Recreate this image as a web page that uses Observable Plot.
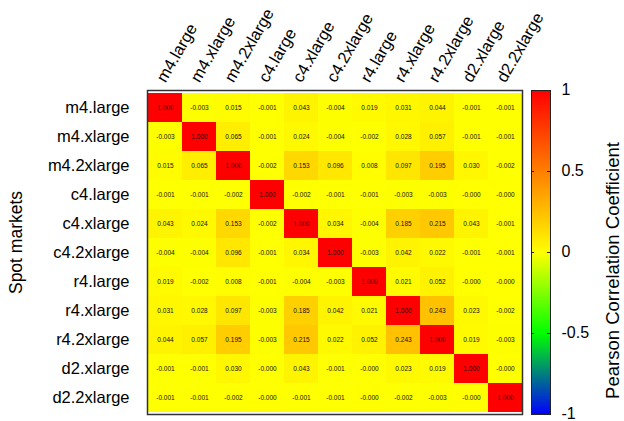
<!DOCTYPE html>
<html>
<head>
<meta charset="utf-8">
<script src="https://cdn.jsdelivr.net/npm/d3@7"></script>
<script src="https://cdn.jsdelivr.net/npm/@observablehq/plot@0.6"></script>
<style>
  body { margin: 0; background: #fff; }
  #chart { position: relative; width: 624px; height: 421px; overflow: hidden; }
  #chart svg { position: absolute; left: 0; top: 0; }
</style>
</head>
<body>
<div id="chart"></div>
<script>
// Spot market instance types (rows and columns of the matrix)
const markets = [
  "m4.large", "m4.xlarge", "m4.2xlarge",
  "c4.large", "c4.xlarge", "c4.2xlarge",
  "r4.large", "r4.xlarge", "r4.2xlarge",
  "d2.xlarge", "d2.2xlarge"
];

// Pearson correlation of spot prices between markets (row i, column j)
const corr = [
  [ 1.000, -0.003,  0.015, -0.001,  0.043, -0.004,  0.019,  0.031,  0.044, -0.001, -0.001],
  [-0.003,  1.000,  0.065, -0.001,  0.024, -0.004, -0.002,  0.028,  0.057, -0.001, -0.001],
  [ 0.015,  0.065,  1.000, -0.002,  0.153,  0.096,  0.008,  0.097,  0.195,  0.030, -0.002],
  [-0.001, -0.001, -0.002,  1.000, -0.002, -0.001, -0.001, -0.003, -0.003, -0.0003, -0.0003],
  [ 0.043,  0.024,  0.153, -0.002,  1.000,  0.034, -0.004,  0.185,  0.215,  0.043, -0.001],
  [-0.004, -0.004,  0.096, -0.001,  0.034,  1.000, -0.003,  0.042,  0.022, -0.001, -0.001],
  [ 0.019, -0.002,  0.008, -0.001, -0.004, -0.003,  1.000,  0.021,  0.052, -0.0003, -0.0003],
  [ 0.031,  0.028,  0.097, -0.003,  0.185,  0.042,  0.021,  1.000,  0.243,  0.023, -0.002],
  [ 0.044,  0.057,  0.195, -0.003,  0.215,  0.022,  0.052,  0.243,  1.000,  0.019, -0.003],
  [-0.001, -0.001,  0.030, -0.0003, 0.043, -0.001, -0.0003, 0.023,  0.019,  1.000, -0.0003],
  [-0.001, -0.001, -0.002, -0.0003, -0.001, -0.001, -0.0003, -0.002, -0.003, -0.0003, 1.000]
];

// Colour bar tick values
const colorTicks = [-1, -0.5, 0, 0.5, 1];

const cells = markets.flatMap((row, i) =>
  markets.map((col, j) => ({row, col, r: corr[i][j]}))
);

// blue -> green -> yellow -> red palette
const color = {
  type: "linear",
  domain: [-1, -0.5, 0, 1],
  range: ["#0000ff", "#00ff00", "#ffff00", "#ff0000"],
  interpolate: "rgb"
};

const font = "'Liberation Sans', Arial, Helvetica, sans-serif";

const main = Plot.plot({
  width: 624,
  height: 421,
  marginLeft: 147,
  marginRight: 102,
  marginTop: 90,
  marginBottom: 7,
  x: {domain: markets, padding: 0, axis: null},
  y: {domain: markets, padding: 0, axis: null},
  color,
  style: {fontFamily: font, background: "transparent", color: "#000"},
  marks: [
    Plot.cell(cells, {x: "col", y: "row", fill: "r"}),
    Plot.text(cells, {x: "col", y: "row", text: d => d.r.toFixed(3), fontSize: 6.5, fill: "#111"}),
    Plot.frame({stroke: "#333", strokeWidth: 1.5}),
    // column labels, slanted above the matrix
    Plot.text(markets, {
      x: d => d, text: d => d, frameAnchor: "top",
      dy: -7, rotate: -60, textAnchor: "start", lineAnchor: "bottom", fontSize: 16.5
    }),
    // row labels
    Plot.text(markets, {
      y: d => d, text: d => d, frameAnchor: "left",
      dx: -18, textAnchor: "end", fontSize: 16.5
    }),
    Plot.text(["Spot markets"], {
      frameAnchor: "left", dx: -131, dy: -10, rotate: -90,
      textAnchor: "middle", fontSize: 17.5
    }),
    Plot.text(["Pearson Correlation Coefficient"], {
      frameAnchor: "right", dx: 91, dy: 18, rotate: -90,
      textAnchor: "middle", fontSize: 18.5
    })
  ]
});

const bar = Plot.plot({
  width: 624,
  height: 421,
  marginLeft: 531,
  marginRight: 74,
  marginTop: 90,
  marginBottom: 7,
  x: {domain: [0, 1], axis: null},
  y: {domain: [-1, 1], axis: null},
  color,
  style: {fontFamily: font, background: "transparent", color: "#000"},
  marks: [
    Plot.raster({x1: 0, x2: 1, y1: -1, y2: 1, width: 1, height: 324, fill: (x, y) => y, imageRendering: "auto"}),
    Plot.frame({stroke: "#222", strokeWidth: 1}),
    Plot.ruleY(colorTicks.slice(1, -1), {y: d => d, x1: 0, x2: 0.16, stroke: "#222"}),
    Plot.ruleY(colorTicks.slice(1, -1), {y: d => d, x1: 0.84, x2: 1, stroke: "#222"}),
    Plot.text(colorTicks, {
      y: d => d, text: d => String(d), frameAnchor: "right",
      dx: 11, dy: -1, textAnchor: "start", fontSize: 16
    })
  ]
});

const chart = document.getElementById("chart");
chart.append(main, bar);
</script>
</body>
</html>
